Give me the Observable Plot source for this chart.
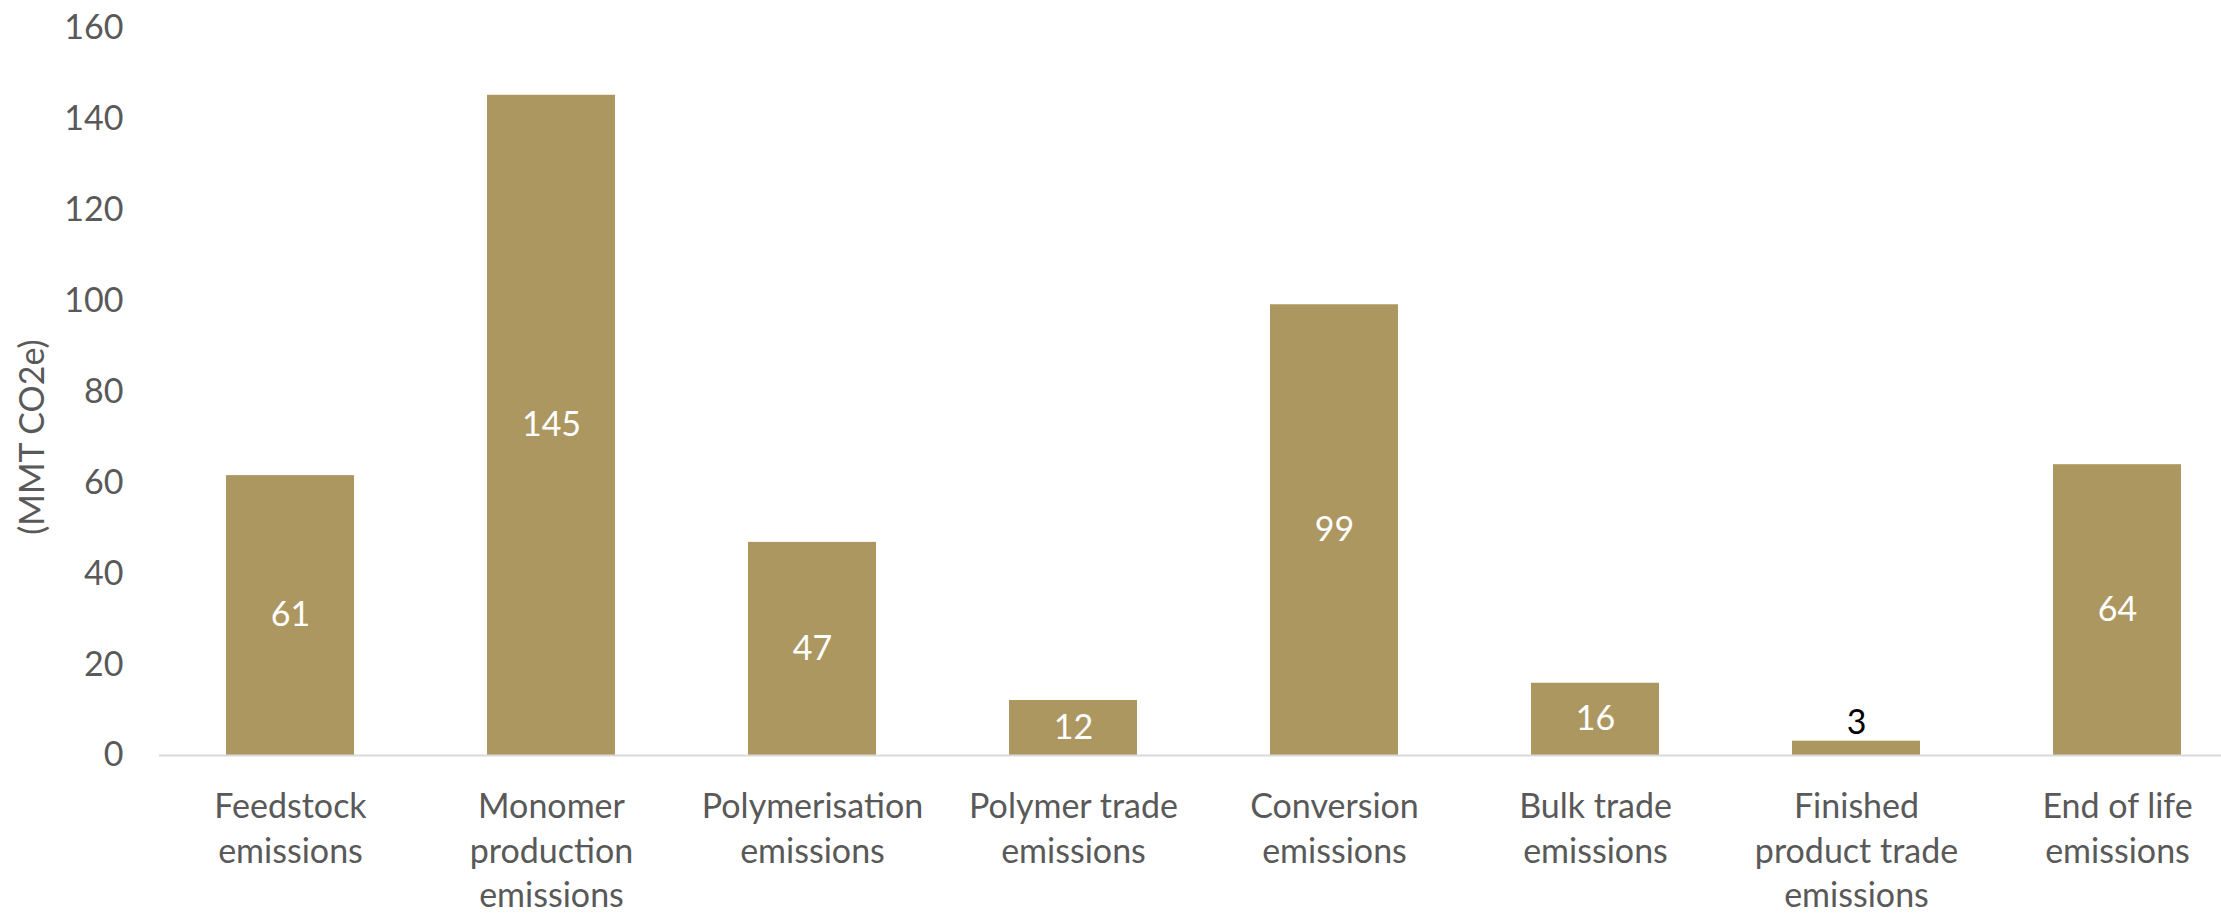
<!DOCTYPE html>
<html>
<head>
<meta charset="utf-8">
<script src="https://cdn.jsdelivr.net/npm/d3@7"></script>
<script src="https://cdn.jsdelivr.net/npm/@observablehq/plot@0.6"></script>
<style>
  html, body { margin: 0; padding: 0; background: #fff; }
</style>
</head>
<body>
<div id="chart"></div>
<script>
const categories = [
  "Feedstock emissions",
  "Monomer production emissions",
  "Polymerisation emissions",
  "Polymer trade emissions",
  "Conversion emissions",
  "Bulk trade emissions",
  "Finished product trade emissions",
  "End of life emissions"
];
const tickLabels = [
  "Feedstock\nemissions",
  "Monomer\nproduction\nemissions",
  "Polymerisation\nemissions",
  "Polymer trade\nemissions",
  "Conversion\nemissions",
  "Bulk trade\nemissions",
  "Finished\nproduct trade\nemissions",
  "End of life\nemissions"
];
const values = [61.6, 145.3, 46.9, 12.1, 99.2, 15.9, 3.15, 64.0];
const valueLabels = ["61", "145", "47", "12", "99", "16", "3", "64"];
const yTicks = [0, 20, 40, 60, 80, 100, 120, 140, 160];
const yTitle = "(MMT CO2e)";

const data = categories.map((c, i) => ({category: c, value: values[i], label: valueLabels[i]}));
const inside = data.filter(d => d.value > 10);
const outside = data.filter(d => d.value <= 10);

const FS = 34;
const chart = Plot.plot({
  width: 2221,
  height: 914,
  marginTop: 28,
  marginBottom: 159,
  marginLeft: 159,
  marginRight: 0,
  style: {fontFamily: "Lato, 'Open Sans', sans-serif", color: "#595959", background: "#fff"},
  x: {domain: categories, range: [159, 2247], paddingInner: 0.51, paddingOuter: 0.255},
  y: {domain: [0, 160]},
  marks: [
    Plot.barY(data, {x: "category", y: "value", fill: "#ad9761"}),
    Plot.ruleY([0], {stroke: "#d9d9d9", strokeWidth: 2}),
    Plot.text(inside, {x: "category", y: d => d.value / 2, text: "label", fill: "#ffffff", fontSize: FS}),
    Plot.text(outside, {x: "category", y: "value", text: "label", fill: "#000000", fontSize: FS, dy: -18}),
    Plot.axisY({ticks: yTicks, tickSize: 0, tickPadding: 36, fontSize: FS, label: null, tickFormat: d => String(d)}),
    Plot.axisX({tickSize: 0, tickPadding: 31, fontSize: FS, lineHeight: 1.31, label: null,
      tickFormat: d => tickLabels[categories.indexOf(d)]}),
    Plot.text([yTitle], {frameAnchor: "left", rotate: -90, dx: -126, dy: 45, fontSize: FS,
      textAnchor: "middle", lineAnchor: "middle", fill: "#595959"})
  ]
});
document.getElementById("chart").appendChild(chart);
</script>
</body>
</html>
